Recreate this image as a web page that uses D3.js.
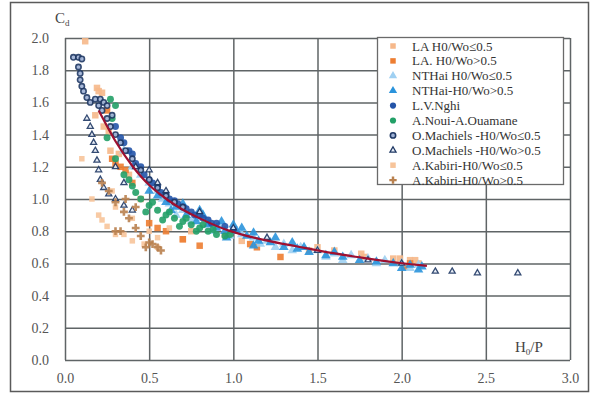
<!DOCTYPE html>
<html><head><meta charset="utf-8">
<script src="https://cdn.jsdelivr.net/npm/d3@7"></script>
<style>body{margin:0;background:#fff}svg{display:block}svg text{font-family:"Liberation Serif","DejaVu Serif",serif}</style>
</head><body>
<svg id="c" width="591" height="394"></svg>
<script>
const xTicks = [0,0.5,1.0,1.5,2.0,2.5,3.0];
const yTicks = [0,0.2,0.4,0.6,0.8,1.0,1.2,1.4,1.6,1.8,2.0];
const seriesNames = ["LA H0/Wo≤0.5","LA. H0/Wo>0.5","NTHai H0/Wo≤0.5","NTHai-H0/Wo>0.5","L.V.Nghi","A.Noui-A.Ouamane","O.Machiels -H0/Wo≤0.5","O.Machiels -H0/Wo>0.5","A.Kabiri-H0/Wo≤0.5","A.Kabiri-H0/Wo>0.5"];

const laLow = [[0.12,1.98],[0.19,1.69],[0.2,1.67],[0.22,1.66],[0.18,1.52],[0.23,1.45],[0.26,1.42],[0.45,1.0],[0.7,0.75],[0.75,0.8],[0.95,0.78],[1.05,0.74],[1.5,0.70],[1.45,0.68],[1.6,0.68],[1.76,0.66],[1.78,0.64],[1.95,0.63],[1.99,0.63],[2.05,0.62],[2.08,0.62],[2.1,0.6],[0.27,1.3],[0.32,1.28],[0.38,1.15]];
const laHigh = [[0.28,1.25],[0.3,1.22],[0.33,1.2],[0.25,1.55],[0.55,0.82],[0.6,0.8],[0.70,0.75],[0.80,0.71],[1.14,0.70],[1.28,0.64],[1.1,0.72],[2.02,0.58],[2.05,0.6],[0.5,0.85],[0.36,1.18],[0.4,1.1]];
const nthaiLow = [[0.35,1.3],[0.45,1.15],[0.55,1.05],[0.62,0.97],[0.7,0.93],[0.78,0.88],[0.85,0.85],[0.92,0.83],[1.0,0.8],[1.05,0.78],[1.12,0.76],[1.2,0.74],[1.3,0.72],[1.4,0.7],[1.5,0.68],[1.6,0.66],[1.7,0.65],[1.8,0.63],[1.9,0.62],[2.0,0.6],[2.1,0.59],[1.25,0.7],[1.55,0.64],[0.4,1.2],[0.5,1.1],[0.58,1.0],[0.66,0.9],[0.75,0.86],[0.88,0.8],[0.98,0.77],[1.16,0.72],[1.35,0.68],[1.65,0.62],[1.85,0.6],[2.05,0.57]];
const nthaiHigh = [[0.5,1.05],[0.6,0.98],[0.66,0.95],[0.72,0.9],[0.78,0.86],[0.85,0.84],[0.9,0.82],[0.95,0.8],[1.02,0.8],[1.08,0.77],[1.15,0.74],[1.22,0.73],[1.3,0.7],[1.38,0.69],[1.45,0.67],[1.55,0.65],[1.65,0.64],[1.75,0.62],[1.85,0.61],[1.95,0.6],[2.05,0.59],[2.12,0.58],[1.25,0.76],[1.05,0.82],[0.82,0.9],[1.35,0.73],[0.55,1.02],[0.63,0.93],[0.7,0.97],[0.8,0.93],[0.93,0.86],[1.0,0.84],[1.12,0.79],[1.42,0.7],[1.6,0.67],[1.12,0.71],[0.96,0.76],[2.0,0.57],[2.1,0.56]];
const nghi = [[0.3,1.45],[0.35,1.35],[0.4,1.28],[0.45,1.2],[0.5,1.12],[0.55,1.08],[0.6,1.03],[0.65,0.99],[0.7,0.95],[0.75,0.92],[0.8,0.9],[0.85,0.87],[0.9,0.85],[0.95,0.83],[1.0,0.81],[0.42,1.22],[0.52,1.1],[0.62,1.0],[0.72,0.94],[0.82,0.88],[0.47,1.15],[0.57,1.04],[0.67,0.97],[0.77,0.9],[0.87,0.85],[0.38,1.3],[0.33,1.38]];
const noui = [[0.35,1.15],[0.4,1.08],[0.45,1.0],[0.5,0.96],[0.55,0.93],[0.6,0.9],[0.65,0.88],[0.7,0.86],[0.75,0.84],[0.8,0.82],[0.85,0.8],[0.9,0.78],[0.95,0.77],[0.48,0.92],[0.58,0.87],[0.68,0.83],[0.3,1.25],[0.25,1.38],[0.42,1.04],[0.78,0.8],[0.52,0.98],[0.62,0.92],[0.72,0.88],[0.82,0.84],[0.88,0.81],[0.98,0.78],[0.38,1.12],[0.28,1.5],[0.3,1.58],[0.27,1.62]];
const machLow = [[0.05,1.88],[0.08,1.88],[0.1,1.87],[0.08,1.82],[0.09,1.78],[0.09,1.74],[0.1,1.7],[0.11,1.67],[0.13,1.63],[0.15,1.6],[0.18,1.62],[0.2,1.58],[0.22,1.55],[0.25,1.5],[0.27,1.45],[0.3,1.4],[0.33,1.35],[0.36,1.3],[0.4,1.25],[0.45,1.18],[0.5,1.12],[0.55,1.07],[0.6,1.02],[0.65,0.98],[0.7,0.95],[0.21,1.62],[0.23,1.6],[0.25,1.58],[0.28,1.52]];
const machHigh = [[0.13,1.5],[0.15,1.45],[0.16,1.4],[0.17,1.35],[0.18,1.3],[0.19,1.24],[0.2,1.18],[0.21,1.12],[0.23,1.07],[0.26,1.03],[0.3,1.0],[0.35,0.96],[0.4,0.93],[0.3,1.2],[0.35,1.1],[0.42,1.2],[0.5,1.18],[0.55,1.1],[0.6,1.05],[0.8,0.92],[1.0,0.82],[1.2,0.76],[1.5,0.68],[1.8,0.62],[2.0,0.6],[2.2,0.55],[2.3,0.55],[2.45,0.54],[2.69,0.54]];
const kabLow = [[0.1,1.25],[0.16,1.0],[0.2,0.9],[0.22,0.87],[0.25,0.83],[0.3,0.78],[0.35,0.78],[0.4,0.74],[0.47,0.72],[0.55,0.7],[0.55,0.76],[0.62,0.82],[0.4,0.88],[0.5,0.8],[0.3,0.95],[0.28,1.05]];
const kabHigh = [[0.22,1.1],[0.26,1.05],[0.3,0.98],[0.35,0.92],[0.38,0.88],[0.42,0.82],[0.45,0.77],[0.5,0.73],[0.55,0.7],[0.57,0.68],[0.48,0.7],[0.3,0.8],[0.33,0.8],[0.52,0.72],[0.36,1.0],[0.42,0.95]];
const fitLine = [[0.2,1.55],[0.3,1.35],[0.4,1.2],[0.5,1.08],[0.6,1.0],[0.7,0.93],[0.8,0.88],[0.96,0.80],[1.2,0.74],[1.36,0.71],[1.6,0.66],[1.8,0.63],[2.0,0.6],[2.15,0.585]];

const allData = [laLow,laHigh,nthaiLow,nthaiHigh,nghi,noui,machLow,machHigh,kabLow,kabHigh];
const styles = [
 {sym:d3.symbolSquare,size:42,fill:"#f6b88a",stroke:"none"},
 {sym:d3.symbolSquare,size:42,fill:"#ed7d31",stroke:"none"},
 {sym:d3.symbolTriangle,size:40,fill:"#9fd0f2",stroke:"none"},
 {sym:d3.symbolTriangle,size:40,fill:"#2a93dc",stroke:"none"},
 {sym:d3.symbolCircle,size:38,fill:"#2454a8",stroke:"none"},
 {sym:d3.symbolCircle,size:38,fill:"#22a067",stroke:"none"},
 {sym:d3.symbolCircle,size:22,fill:"#9fb2d6",stroke:"#1f3864",sw:1.6},
 {sym:d3.symbolTriangle,size:16,fill:"#e8eef8",stroke:"#1f3864",sw:1.3},
 {sym:d3.symbolSquare,size:30,fill:"#f7c49a",stroke:"none"},
 {sym:d3.symbolCross,size:34,fill:"#b9814f",stroke:"none"}
];

const serif = '"Liberation Serif","DejaVu Serif",serif';
const svg = d3.select("#c");
const x = d3.scaleLinear().domain([0,3]).range([65,570]);
const y = d3.scaleLinear().domain([0,2]).range([360,38]);

svg.append("rect").attr("x",10.5).attr("y",2.5).attr("width",578).attr("height",389).attr("fill","#fff").attr("stroke","#5a5a5a").attr("stroke-width",1.5);

const fmt = d3.format(".1f");
const gx = svg.append("g").attr("transform","translate(0,360)")
  .call(d3.axisBottom(x).tickValues(xTicks).tickFormat(fmt).tickSize(-322).tickPadding(13));
const gy = svg.append("g").attr("transform","translate(65,0)")
  .call(d3.axisLeft(y).tickValues(yTicks).tickFormat(fmt).tickSize(-505).tickPadding(16));
[gx,gy].forEach(g=>{
  g.attr("font-family",null);
  g.select(".domain").remove();
  g.selectAll(".tick line").attr("stroke","#5f6466").attr("stroke-width",1.5);
  g.selectAll("text").style("font-family",serif).attr("font-size",14).attr("fill","#555");
});
gx.selectAll("text").attr("dy","0.71em");

const lineG = d3.line().x(d=>x(d[0])).y(d=>y(d[1])).curve(d3.curveBasis);

allData.forEach((data,i)=>{
  const s = styles[i];
  svg.append("g").selectAll("path").data(data).join("path")
    .attr("transform",d=>`translate(${x(d[0])},${y(d[1])})`)
    .attr("d",d3.symbol().type(s.sym).size(s.size))
    .attr("fill",s.fill).attr("stroke",s.stroke).attr("stroke-width",s.sw||1)
    .attr("opacity",0.9);
});

svg.append("path").datum(fitLine).attr("d",lineG).attr("fill","none").attr("stroke","#9e1030").attr("stroke-width",2.2);

// axis titles
const ct = svg.append("text").attr("x",55).attr("y",23).style("font-family",serif).attr("font-size",15).attr("fill","#444");
ct.append("tspan").text("C");
ct.append("tspan").attr("font-size",9).attr("dy",3).text("d");
const ht = svg.append("text").attr("x",515).attr("y",352).style("font-family",serif).attr("font-size",15).attr("fill","#444");
ht.append("tspan").text("H");
ht.append("tspan").attr("font-size",9).attr("dy",3).text("0");
ht.append("tspan").attr("dy",-3).text("/P");

// legend
const lg = svg.append("g");
lg.append("rect").attr("x",377.5).attr("y",37.5).attr("width",186).attr("height",147).attr("fill","#fff").attr("stroke","#6a6a6a").attr("stroke-width",1.3);
seriesNames.forEach((n,i)=>{
  const yy = 46 + i*14.9;
  const s = styles[i];
  lg.append("path").attr("transform",`translate(393,${yy})`).attr("d",d3.symbol().type(s.sym).size(Math.min(s.size,30)))
    .attr("fill",s.fill).attr("stroke",s.stroke).attr("stroke-width",s.sw||1);
  lg.append("text").attr("x",412).attr("y",yy).attr("dy","0.35em").style("font-family",serif).attr("font-size",13).attr("fill","#333").text(n);
});
</script>
</body></html>
